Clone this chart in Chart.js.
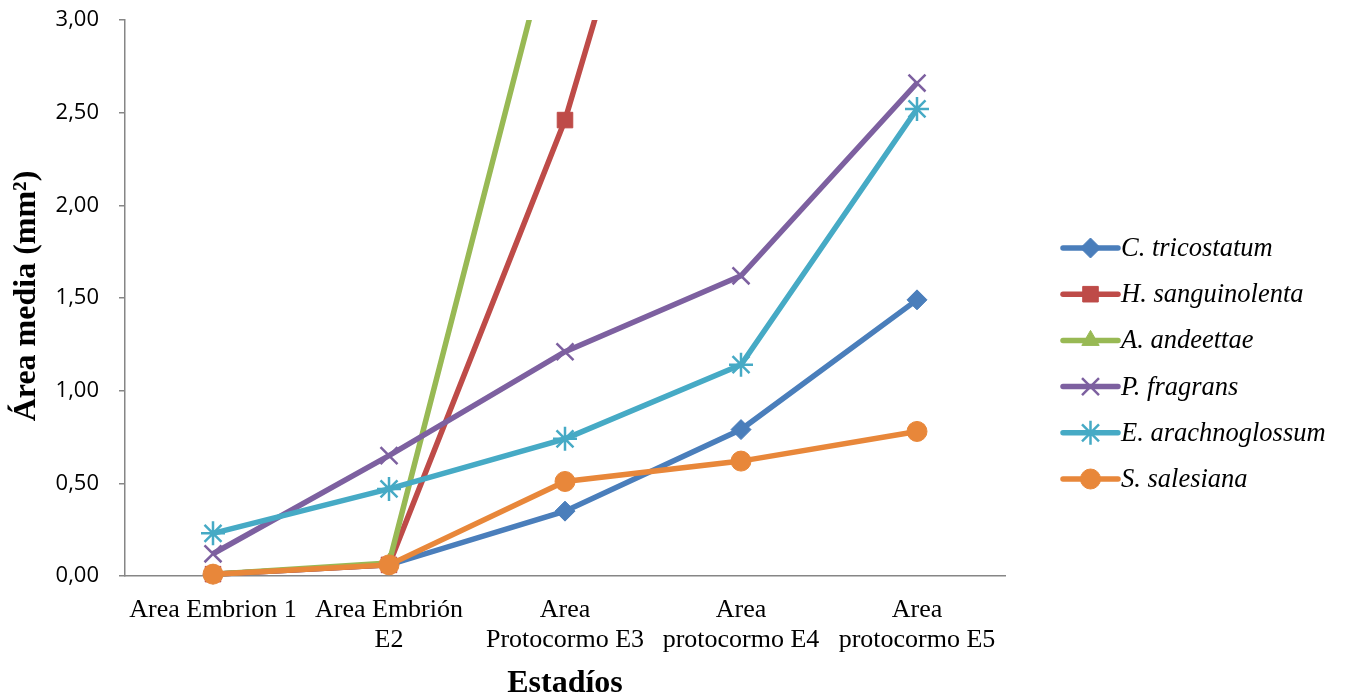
<!DOCTYPE html>
<html>
<head>
<meta charset="utf-8">
<script src="https://cdn.jsdelivr.net/npm/chart.js"></script>
<style>
html,body{margin:0;padding:0;background:#fff;}
#wrap{width:1345px;height:698px;}
</style>
</head>
<body>
<div id="wrap"><canvas id="c" width="1345" height="698"></canvas></div>
<script>
// Categories (x axis)
const categories = ['Area Embrion 1', ['Area Embrión', 'E2'], ['Area', 'Protocormo E3'], ['Area', 'protocormo E4'], ['Area', 'protocormo E5']];
// Series names
const seriesNames = ['C. tricostatum', 'H. sanguinolenta', 'A. andeettae', 'P. fragrans', 'E. arachnoglossum', 'S. salesiana'];
// Series values (mm²); values beyond the axis maximum are off-chart
const cTricostatum = [0.01, 0.06, 0.35, 0.79, 1.49];
const hSanguinolenta = [0.01, 0.06, 2.46, 5.66, null];
const aAndeettae = [0.01, 0.07, 3.75, null, null];
const pFragrans = [0.12, 0.65, 1.21, 1.62, 2.66];
const eArachnoglossum = [0.23, 0.47, 0.74, 1.14, 2.52];
const sSalesiana = [0.01, 0.06, 0.51, 0.62, 0.78];
// Y ticks
const yTicks = [0, 0.5, 1, 1.5, 2, 2.5, 3];

const seriesValues = [cTricostatum, hSanguinolenta, aAndeettae, pFragrans, eArachnoglossum, sSalesiana];
const colors = ['#4A7EBB', '#BE4B48', '#98B954', '#7D60A0', '#46AAC5', '#E8873A'];
const markers = ['rectRot', 'rect', 'triangle', 'crossRot', 'star', 'circle'];
const radii = [10, 11, 10, 12, 12, 10];

const datasets = seriesValues.map((vals, i) => ({
  label: seriesNames[i],
  data: vals,
  borderColor: colors[i],
  backgroundColor: colors[i],
  borderWidth: 5.5,
  pointStyle: markers[i],
  pointRadius: radii[i],
  pointHoverRadius: radii[i],
  pointBackgroundColor: colors[i],
  pointBorderColor: colors[i],
  pointBorderWidth: (markers[i] === 'crossRot' || markers[i] === 'star') ? 2.5 : 1,
  tension: 0,
  spanGaps: false,
  order: 5 - i,
  clip: {left: 20, right: 20, top: 0, bottom: 20}
}));

const extras = {
  id: 'extras',
  afterDraw(chart) {
    const ctx = chart.ctx;
    const area = chart.chartArea;
    ctx.save();
    // Y axis title
    ctx.fillStyle = '#000';
    ctx.font = 'bold 32px "Liberation Serif", "Times New Roman", serif';
    ctx.textAlign = 'center';
    ctx.textBaseline = 'middle';
    ctx.translate(27, 296);
    ctx.rotate(-Math.PI / 2);
    ctx.fillText('Área media (mm²)', 0, 0);
    ctx.restore();
    // X axis title
    ctx.save();
    ctx.fillStyle = '#000';
    ctx.font = 'bold 32px "Liberation Serif", "Times New Roman", serif';
    ctx.textAlign = 'center';
    ctx.textBaseline = 'alphabetic';
    ctx.fillText('Estadíos', (area.left + area.right) / 2, 692);
    ctx.restore();
    // Legend
    ctx.save();
    const x0 = 1063, x1 = 1118, yStart = 248, step = 46.2;
    chart.data.datasets.forEach((ds, i) => {
      const y = yStart + i * step;
      ctx.strokeStyle = ds.borderColor;
      ctx.lineWidth = 5.5;
      ctx.lineCap = 'round';
      ctx.beginPath();
      ctx.moveTo(x0, y);
      ctx.lineTo(x1, y);
      ctx.stroke();
      ctx.lineCap = 'butt';
      if (Chart.helpers && Chart.helpers.drawPoint) {
        ctx.fillStyle = ds.pointBackgroundColor;
        ctx.strokeStyle = ds.pointBorderColor;
        ctx.lineWidth = ds.pointBorderWidth;
        Chart.helpers.drawPoint(ctx, {
          pointStyle: ds.pointStyle,
          radius: ds.pointRadius,
          rotation: 0,
          borderWidth: ds.pointBorderWidth
        }, (x0 + x1) / 2, y);
      }
      ctx.fillStyle = '#000';
      ctx.font = 'italic 26.5px "Liberation Serif", "Times New Roman", serif';
      ctx.textAlign = 'left';
      ctx.textBaseline = 'middle';
      ctx.fillText(ds.label, x1 + 3, y + 1);
    });
    ctx.restore();
  }
};

new Chart(document.getElementById('c'), {
  type: 'line',
  data: { labels: categories, datasets: datasets },
  options: {
    responsive: false,
    animation: false,
    layout: { padding: { left: 0, right: 340, top: 20, bottom: 0 } },
    plugins: { legend: { display: false }, tooltip: { enabled: false } },
    scales: {
      x: {
        type: 'category',
        offset: true,
        grid: { display: true, drawOnChartArea: false, drawTicks: false },
        border: { display: true, color: '#868686', width: 1.5 },
        ticks: {
          color: '#000',
          font: { family: '"Liberation Serif", "Times New Roman", serif', size: 26, lineHeight: 1.15 },
          padding: 19,
          maxRotation: 0,
          minRotation: 0,
          autoSkip: false
        },
        afterFit(scale) { scale.height = 122; scale.paddingLeft = 0; scale.paddingRight = 0; }
      },
      y: {
        min: 0,
        max: 3,
        afterBuildTicks(scale) { scale.ticks = yTicks.map(v => ({ value: v })); },
        grid: { display: true, drawOnChartArea: false, drawTicks: true, tickLength: 6, color: '#868686', lineWidth: 1.5 },
        border: { display: true, color: '#868686', width: 1.5 },
        ticks: {
          color: '#000',
          font: { family: '"Open Sans", sans-serif', size: 22 },
          padding: 20,
          callback: (v) => Number(v).toFixed(2).replace('.', ',')
        },
        afterFit(scale) { scale.width = 125; scale.paddingTop = 0; scale.paddingBottom = 0; }
      }
    }
  },
  plugins: [extras]
});
</script>
</body>
</html>
